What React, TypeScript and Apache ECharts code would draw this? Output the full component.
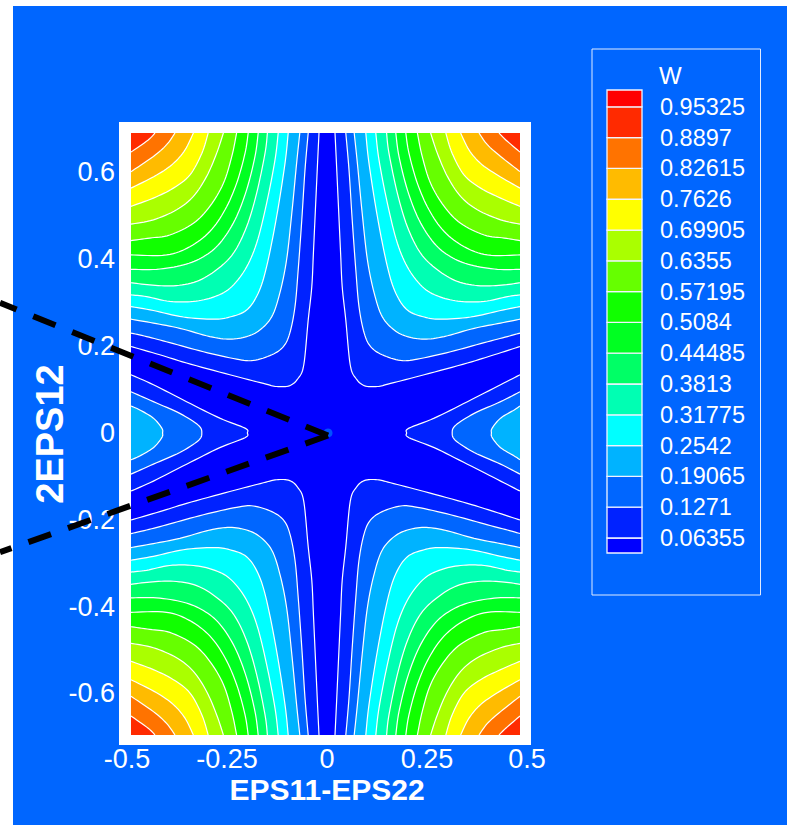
import React, { useEffect, useRef } from "react";
import * as echarts from "echarts";

// ---- data (x = EPS11-EPS22, y = 2EPS12), upper-left quadrant, mirrored by symmetry
const levels = [0.06355, 0.1271, 0.19065, 0.2542, 0.31775, 0.3813, 0.44485, 0.5084, 0.57195, 0.6355, 0.69905, 0.7626, 0.82615, 0.8897, 0.95325];
const bandColors = ["#0000ff", "#0022ff", "#0066ff", "#00b3ff", "#00ffff", "#00ffb3", "#00ff66", "#00ff22", "#11ff00", "#66ff00", "#aaff00", "#ffff00", "#ffbb00", "#ff7300", "#ff2a00", "#ff0000"];
const legendLabels = ["0.06355", "0.1271", "0.19065", "0.2542", "0.31775", "0.3813", "0.44485", "0.5084", "0.57195", "0.6355", "0.69905", "0.7626", "0.82615", "0.8897", "0.95325"];
const xTicks = [-0.5, -0.25, 0, 0.25, 0.5];
const yTicks = [-0.6, -0.4, -0.2, 0, 0.2, 0.4, 0.6];

const c06355 = [[-0.02, 0.69], [-0.024, 0.614], [-0.029, 0.514], [-0.034, 0.414], [-0.038, 0.337], [-0.047, 0.26], [-0.058, 0.157], [-0.072, 0.126], [-0.093, 0.109], [-0.126, 0.107], [-0.159, 0.114], [-0.243, 0.134], [-0.351, 0.161], [-0.418, 0.18], [-0.49, 0.199]];
const c1271 = [[-0.047, 0.69], [-0.055, 0.606], [-0.063, 0.491], [-0.072, 0.376], [-0.08, 0.291], [-0.093, 0.23], [-0.109, 0.199], [-0.138, 0.18], [-0.184, 0.167], [-0.226, 0.17], [-0.309, 0.187], [-0.393, 0.208], [-0.451, 0.222], [-0.49, 0.23]];
const c19065 = [[-0.068, 0.69], [-0.076, 0.621], [-0.088, 0.506], [-0.101, 0.399], [-0.118, 0.322], [-0.138, 0.268], [-0.168, 0.237], [-0.201, 0.222], [-0.243, 0.216], [-0.293, 0.222], [-0.368, 0.241], [-0.434, 0.253], [-0.49, 0.262]];
const c2542 = [[-0.097, 0.69], [-0.105, 0.621], [-0.126, 0.498], [-0.151, 0.383], [-0.172, 0.322], [-0.201, 0.283], [-0.243, 0.267], [-0.284, 0.262], [-0.359, 0.267], [-0.434, 0.282], [-0.49, 0.291]];
const c31775 = [[-0.122, 0.69], [-0.13, 0.629], [-0.151, 0.529], [-0.176, 0.437], [-0.205, 0.376], [-0.243, 0.333], [-0.284, 0.313], [-0.334, 0.303], [-0.393, 0.303], [-0.451, 0.314], [-0.49, 0.318]];
const c3813 = [[-0.149, 0.69], [-0.155, 0.644], [-0.176, 0.552], [-0.201, 0.475], [-0.234, 0.414], [-0.276, 0.376], [-0.326, 0.349], [-0.384, 0.339], [-0.443, 0.341], [-0.49, 0.346]];
const c44485 = [[-0.172, 0.69], [-0.18, 0.637], [-0.201, 0.56], [-0.23, 0.491], [-0.268, 0.437], [-0.309, 0.406], [-0.359, 0.387], [-0.426, 0.377], [-0.49, 0.377]];
const c5084 = [[-0.197, 0.69], [-0.205, 0.644], [-0.226, 0.575], [-0.255, 0.514], [-0.293, 0.464], [-0.343, 0.429], [-0.401, 0.41], [-0.49, 0.41]];
const c57195 = [[-0.226, 0.69], [-0.238, 0.637], [-0.259, 0.575], [-0.293, 0.522], [-0.334, 0.483], [-0.393, 0.456], [-0.443, 0.449], [-0.49, 0.443]];
const c6355 = [[-0.259, 0.69], [-0.276, 0.644], [-0.301, 0.591], [-0.334, 0.545], [-0.376, 0.514], [-0.434, 0.491], [-0.49, 0.481]];
const c69905 = [[-0.297, 0.69], [-0.313, 0.644], [-0.343, 0.594], [-0.384, 0.564], [-0.434, 0.541], [-0.49, 0.522]];
const c7626 = [[-0.334, 0.69], [-0.355, 0.652], [-0.384, 0.621], [-0.426, 0.594], [-0.49, 0.564]];
const c82615 = [[-0.38, 0.69], [-0.401, 0.664], [-0.434, 0.637], [-0.49, 0.602]];
const c8897 = [[-0.43, 0.69], [-0.447, 0.675], [-0.49, 0.647]];
const cornerContours = [c06355, c1271, c19065, c2542, c31775, c3813, c44485, c5084, c57195, c6355, c69905, c7626, c82615, c8897];

const lobe06355 = [[-0.49, 0.134], [-0.434, 0.111], [-0.351, 0.072], [-0.268, 0.034], [-0.205, 0.011], [-0.199, 0]];
const lobe1271 = [[-0.49, 0.095], [-0.434, 0.072], [-0.368, 0.045], [-0.322, 0.018], [-0.313, 0]];
const lobe19065 = [[-0.49, 0.062], [-0.468, 0.053], [-0.434, 0.034], [-0.413, 0.011], [-0.411, 0]];
const lobeContours = [lobe06355, lobe1271, lobe19065];

const dashUpper = [[0.0025, -0.006], [-0.8175, 0.3]];
const dashLower = [[0.0025, -0.006], [-0.8175, -0.275]];
const marker = [[0.0025, 0]];

const XMIN = -0.49, XMAX = 0.4825, YMIN = -0.696, YMAX = 0.691;
const LOWER_STRETCH = 1.008;
const LEG_MIN = 0.0326, LEG_MAX = 0.988;

type Region = { level: number; pts: number[][]; closeTo: number[][] };

function snap(p: number[]) {
  let [x, y] = p;
  if (x <= -0.49) x = XMIN;
  if (x >= 0.49) x = XMAX;
  if (y >= 0.69) y = YMAX;
  if (y <= -0.69) y = YMIN;
  return [x, y];
}

const regions: Region[] = [];
cornerContours.forEach((curve, level) => {
  for (const sx of [1, -1]) for (const sy of [1, -1]) {
    const pts = curve.map(([x, y]) => snap([x * sx, sy > 0 ? y : -y * LOWER_STRETCH]));
    const corner = [sx > 0 ? XMIN : XMAX, sy > 0 ? YMAX : YMIN];
    regions.push({ level, pts, closeTo: [corner] });
    if (level < lobeContours.length && sx === 1 && sy === 1) {
      for (const s of [1, -1]) {
        const half = lobeContours[level];
        const full = [...half, ...half.slice(0, -1).reverse().map(([x, y]) => [x, -y])];
        regions.push({ level, pts: full.map(([x, y]) => snap([x * s, y])), closeTo: [] });
      }
    }
  }
});
regions.sort((a, b) => a.level - b.level);

// smooth pixel path through contour vertices (rendering only)
function smoothPath(p: number[][]) {
  const out: number[][] = [];
  for (let i = 0; i < p.length - 1; i++) {
    const p0 = p[Math.max(0, i - 1)], p1 = p[i], p2 = p[i + 1], p3 = p[Math.min(p.length - 1, i + 2)];
    for (let k = 0; k < 8; k++) {
      const t = k / 8, t2 = t * t, t3 = t2 * t;
      out.push([0, 1].map((d) => 0.5 * (2 * p1[d] + (p2[d] - p0[d]) * t + (2 * p0[d] - 5 * p1[d] + 4 * p2[d] - p3[d]) * t2 + (3 * p1[d] - p0[d] - 3 * p2[d] + p3[d]) * t3)));
    }
  }
  out.push(p[p.length - 1]);
  return out;
}

const legendBands = bandColors.map((_, i) => [i === 0 ? LEG_MIN : levels[i - 1], i === levels.length ? LEG_MAX : levels[i], i]);

export default function App() {
  const ref = useRef<HTMLDivElement>(null);
  useEffect(() => {
    document.body.style.margin = "0";
    const chart = echarts.init(ref.current!, null, { renderer: "svg" });
    const font = "'Liberation Sans', Arial, sans-serif";
    chart.setOption({
      animation: false,
      graphic: [
        { type: "rect", z: -10, silent: true, shape: { x: 13, y: 6, width: 774, height: 819 }, style: { fill: "#0066ff" } },
        { type: "rect", z: -9, silent: true, shape: { x: 119, y: 122, width: 412, height: 623 }, style: { fill: "#ffffff" } },
        { type: "rect", z: -8, silent: true, shape: { x: 592, y: 49, width: 168.5, height: 546 }, style: { fill: "none", stroke: "#dfeaff", lineWidth: 1 } },
        { type: "text", z: 5, silent: true, x: 659, y: 63, style: { text: "W", fill: "#ffffff", font: `24px ${font}` } },
      ],
      grid: [
        { left: 127, width: 400, top: 133, height: 602 },
        { left: 607, width: 35, top: 90, height: 463 },
      ],
      xAxis: [
        {
          gridIndex: 0, type: "value", min: -0.5, max: 0.5,
          axisLine: { show: false }, axisTick: { show: false }, splitLine: { show: false },
          axisLabel: { customValues: xTicks, formatter: (v: number) => String(v), color: "#fff", fontFamily: font, fontSize: 27, margin: 10 },
          name: "EPS11-EPS22", nameLocation: "middle", nameGap: 39, nameMoveOverlap: false,
          nameTextStyle: { color: "#fff", fontFamily: font, fontSize: 30, fontWeight: "bold" },
        },
        { gridIndex: 1, type: "value", min: 0, max: 1, show: false },
      ],
      yAxis: [
        {
          gridIndex: 0, type: "value", min: YMIN, max: YMAX,
          axisLine: { show: false }, axisTick: { show: false }, splitLine: { show: false },
          axisLabel: { customValues: yTicks, formatter: (v: number) => String(v), color: "#fff", fontFamily: font, fontSize: 27, margin: 12 },
          name: "2EPS12", nameLocation: "middle", nameGap: 58, nameMoveOverlap: false,
          nameTextStyle: { color: "#fff", fontFamily: font, fontSize: 38, fontWeight: "bold" },
        },
        {
          gridIndex: 1, type: "value", min: LEG_MIN, max: LEG_MAX, position: "right",
          axisLine: { show: false }, axisTick: { show: false }, splitLine: { show: false },
          axisLabel: {
            customValues: levels,
            formatter: (v: number) => legendLabels[levels.indexOf(v)] ?? String(v),
            color: "#fff", fontFamily: font, fontSize: 23.5, margin: 18,
          },
        },
      ],
      series: [
        {
          type: "custom", xAxisIndex: 0, yAxisIndex: 0, z: 2, clip: false, silent: true,
          data: [[0]],
          renderItem: (_p: any, api: any) => {
            const a = api.coord([XMIN, YMAX]);
            const b = api.coord([XMAX, YMIN]);
            return { type: "rect", shape: { x: a[0], y: a[1], width: b[0] - a[0], height: b[1] - a[1] }, style: { fill: bandColors[0] } };
          },
        },
        {
          type: "custom", xAxisIndex: 0, yAxisIndex: 0, z: 3, clip: false, silent: true,
          data: regions.map((_, i) => [i]),
          renderItem: (_p: any, api: any) => {
            const r = regions[api.value(0)];
            const line = smoothPath(r.pts.map((q) => api.coord(q)));
            const closure = r.closeTo.map((q) => api.coord(q));
            return {
              type: "group",
              children: [
                { type: "polygon", shape: { points: [...line, ...closure] }, style: { fill: bandColors[r.level + 1], stroke: null } },
                { type: "polyline", shape: { points: line }, style: { fill: null, stroke: "#ffffff", lineWidth: 1.2 } },
              ],
            };
          },
        },
        {
          type: "scatter", xAxisIndex: 0, yAxisIndex: 0, z: 4, clip: false, silent: true,
          data: marker, symbolSize: 9, itemStyle: { color: "#0066ff" },
        },
        {
          type: "custom", xAxisIndex: 0, yAxisIndex: 0, z: 5, clip: false, silent: true,
          data: [[0], [1]],
          renderItem: (_p: any, api: any) => {
            const d = [dashUpper, dashLower][api.value(0)];
            return {
              type: "polyline",
              shape: { points: d.map((q) => api.coord(q)) },
              style: { fill: null, stroke: "#000000", lineWidth: 6, lineDash: [24, 18], lineCap: "butt" },
            };
          },
        },
        {
          type: "custom", xAxisIndex: 1, yAxisIndex: 1, z: 3, clip: false, silent: true,
          data: legendBands,
          renderItem: (_p: any, api: any) => {
            const lo = api.coord([0, api.value(0)]);
            const hi = api.coord([1, api.value(1)]);
            return {
              type: "rect",
              shape: { x: lo[0], y: hi[1], width: hi[0] - lo[0], height: lo[1] - hi[1] },
              style: { fill: bandColors[api.value(2)], stroke: "#f0f4ff", lineWidth: 1.3 },
            };
          },
        },
      ],
    });
    return () => chart.dispose();
  }, []);
  return <div ref={ref} style={{ width: 787, height: 825 }} />;
}
